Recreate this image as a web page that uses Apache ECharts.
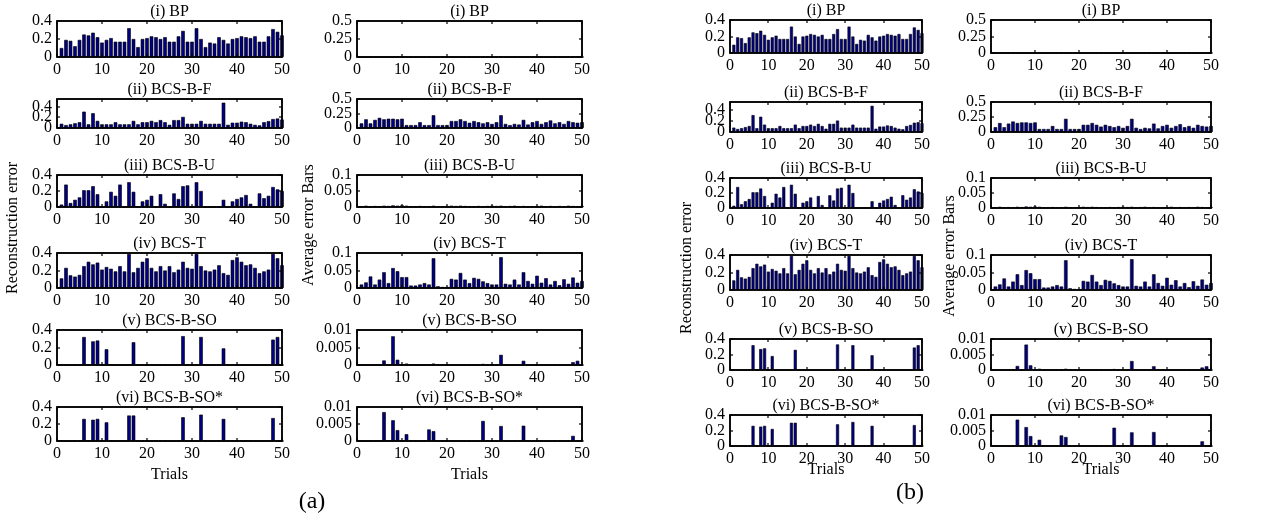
<!DOCTYPE html>
<html>
<head>
<meta charset="utf-8">
<script src="https://cdn.jsdelivr.net/npm/echarts@6/dist/echarts.min.js"></script>
<style>html,body{margin:0;padding:0;background:#fff}#main{width:1266px;height:519px}</style>
</head>
<body>
<div id="main"></div>
<script>
// trial index (x)
var trials = [1,2,3,4,5,6,7,8,9,10,11,12,13,14,15,16,17,18,19,20,21,22,23,24,25,
  26,27,28,29,30,31,32,33,34,35,36,37,38,39,40,41,42,43,44,45,46,47,48,49,50];
var xTicks = [0, 10, 20, 30, 40, 50];

var subTitles = ['(i) BP', '(ii) BCS-B-F', '(iii) BCS-B-U', '(iv) BCS-T', '(v) BCS-B-SO', '(vi) BCS-B-SO*'];

// reconstruction error
var recBP = [.10,.19,.18,.12,.19,.25,.24,.27,.22,.16, .19,.21,.17,.17,.17,.32,.20,.11,.20,.21,
  .23,.22,.20,.22,.17,.17,.23,.29,.17,.17, .32,.20,.11,.16,.15,.22,.19,.15,.20,.21,
  .23,.22,.21,.23,.17,.17,.23,.31,.28,.24];
var recBF = [.08,.055,.07,.09,.11,.31,.07,.28,.135,.07, .07,.07,.11,.07,.07,.07,.135,.07,.11,.11,
  .135,.11,.15,.11,.06,.15,.15,.21,.08,.08, .08,.135,.08,.08,.08,.08,.48,.06,.10,.10,
  .12,.11,.08,.06,.05,.11,.13,.17,.18,.16];
var recBU = [.03,.28,.05,.09,.12,.21,.21,.26,.16,0, .07,.19,.14,.28,0,.31,.19,0,.07,.09,
  .14,0,.16,.04,0,.17,.10,.26,.27,0, .31,.20,0,0,0,0,.09,0,.07,.10,
  .12,.15,.04,0,.17,.11,.14,.25,.22,.20];
var recT = [.11,.23,.145,.13,.15,.25,.30,.27,.29,.21, .24,.22,.19,.25,.19,.39,.18,.23,.30,.34,
  .23,.19,.25,.20,.25,.18,.21,.30,.23,.22, .39,.25,.20,.19,.21,.26,.17,.15,.32,.35,
  .30,.26,.27,.23,.17,.19,.21,.39,.34,.26];
var recSO = [0,0,0,0,0,.32,0,.27,.28,0, .18,0,0,0,0,0,.26,0,0,0,
  0,0,0,0,0,0,0,.33,0,0, 0,.32,0,0,0,0,.19,0,0,0,
  0,0,0,0,0,0,0,.29,.32,0];
var recSOs = [0,0,0,0,0,.26,0,.25,.26,0, .22,0,0,0,0,.30,.30,0,0,0,
  0,0,0,0,0,0,0,.28,0,0, 0,.31,0,0,0,0,.26,0,0,0,
  0,0,0,0,0,0,0,.27,0,0];

// average error bars
var avgBP = [0,0,0,0,0,0,0,0,0,0, 0,0,0,0,0,0,0,0,0,0, 0,0,0,0,0,0,0,0,0,0,
  0,0,0,0,0,0,0,0,0,0, 0,0,0,0,0,0,0,0,0,0];
var avgBF = [.08,.15,.08,.14,.175,.15,.16,.16,.15,.16, .05,.05,.05,.10,.05,.05,.22,.05,.05,.05,
  .12,.12,.15,.12,.09,.12,.10,.08,.10,.07, .10,.22,.07,.05,.07,.06,.14,.06,.10,.12,
  .07,.10,.13,.08,.10,.07,.12,.10,.09,.10];
var avgBU = [.002,.004,.001,.003,.002,.004,.003,.005,.004,.005, .004,.002,.001,.003,.002,.002,.004,.001,.002,.003,
  .004,.003,.004,.003,.002,.001,.003,.002,.003,.004, .003,.004,.002,.003,.004,.002,.003,.001,.002,.003,
  .004,.002,.003,.001,.003,.002,.004,.003,.002,.003];
var avgT = [.01,.016,.033,.01,.024,.045,.014,.057,.048,.031, .031,.007,.007,.01,.014,.01,.085,.005,.003,.003,
  .026,.024,.043,.024,.014,.029,.026,.019,.014,.01, .01,.088,.012,.01,.024,.01,.045,.02,.012,.035,
  .015,.028,.01,.02,.008,.025,.012,.03,.015,.02];
var avgSO = [0,0,0,0,0,.0013,0,.0082,.0015,0, .0004,0,0,0,0,0,.0004,0,0,0,
  0,0,0,0,0,0,0,.0003,0,0, 0,.0029,0,0,0,0,.0012,0,0,0,
  0,0,0,0,0,0,0,.0008,.0012,0];
var avgSOs = [0,0,0,0,0,.0085,0,.0061,.0032,0, .002,0,0,0,0,.0034,.0029,0,0,0,
  0,0,0,0,0,0,0,.0059,0,0, 0,.0044,0,0,0,0,.0045,0,0,0,
  0,0,0,0,0,0,0,.0015,0,0];

// y ticks
var recMax = [0.4, 0.55, 0.4, 0.4, 0.4, 0.4];
var recStep = [0.2, 0.2, 0.2, 0.2, 0.2, 0.2];
var avgMax = [0.5, 0.5, 0.1, 0.1, 0.01, 0.01];
var avgStep = [0.25, 0.25, 0.05, 0.05, 0.005, 0.005];

var recData = [recBP, recBF, recBU, recT, recSO, recSOs];
var avgData = [avgBP, avgBF, avgBU, avgT, avgSO, avgSOs];

var myChart = echarts.init(document.getElementById('main'));
var FONT = 'Liberation Serif';

var panels = [
  {colX: [57, 357], w: [225, 225], tops: [21, 99, 175, 253, 330, 407], hs: [36, 29, 32, 35, 35, 34],
   ylabX: [13, 309], ylabY: [228, 225], trialsY: 475, tagX: 312, tagY: 502, tag: '(a)'},
  {colX: [730, 991], w: [192, 220], tops: [20, 102, 178, 255, 339, 415], hs: [33, 30, 30, 35, 31, 31],
   ylabX: [687, 950], ylabY: [268, 256], trialsY: 470, tagX: 910, tagY: 493, tag: '(b)'}
];

var grid = [], xAxis = [], yAxis = [], series = [], graphic = [], plots = [];

function txt(x, y, s, size, rot, align) {
  graphic.push({type: 'text', x: x, y: y, rotation: rot || 0,
    style: {text: s, font: size + 'px ' + FONT, fill: '#000', textAlign: align || 'center', textVerticalAlign: 'middle'}});
}
function seg(x1, y1, x2, y2, lw) {
  graphic.push({type: 'line', shape: {x1: x1, y1: y1, x2: x2, y2: y2},
    style: {stroke: '#000', lineWidth: lw || 1.5}, z: 10});
}

function addPlot(x, top, w, h, vals, ymax, ystep, title) {
  var g = grid.length;
  plots.push({left: x, max: ymax, step: ystep});
  grid.push({left: x, top: top, width: w, height: h, containLabel: false,
    show: true, borderColor: '#000', borderWidth: 1.5, backgroundColor: 'rgba(0,0,0,0)'});
  xAxis.push({type: 'value', gridIndex: g, min: 0, max: 50, interval: 10,
    splitLine: {show: false}, axisLine: {show: false}, axisTick: {show: false},
    axisLabel: {fontFamily: FONT, fontSize: 16, color: '#000', margin: 5,
      showMinLabel: true, showMaxLabel: true}});
  yAxis.push({type: 'value', gridIndex: g, min: 0, max: ymax, interval: ystep,
    splitLine: {show: false}, axisLine: {show: false}, axisTick: {show: false}, axisLabel: {show: false}});
  series.push({type: 'bar', xAxisIndex: g, yAxisIndex: g,
    barWidth: 0.8 * w / 50, clip: true,
    itemStyle: {color: '#000080', borderColor: '#000', borderWidth: 0.6},
    data: trials.map(function (t, i) { return [t, vals[i]]; })});
  txt(x + w / 2, top - 9, title, 16);
}

panels.forEach(function (p) {
  for (var r = 0; r < 6; r++) {
    addPlot(p.colX[0], p.tops[r], p.w[0], p.hs[r], recData[r], recMax[r], recStep[r], subTitles[r]);
    addPlot(p.colX[1], p.tops[r], p.w[1], p.hs[r], avgData[r], avgMax[r], avgStep[r], subTitles[r]);
  }
  txt(p.ylabX[0], p.ylabY[0], 'Reconstruction error', 16, Math.PI / 2);
  txt(p.ylabX[1], p.ylabY[1], 'Average error Bars', 16, Math.PI / 2);
  txt(p.colX[0] + p.w[0] / 2, p.trialsY, 'Trials', 16);
  txt(p.colX[1] + p.w[1] / 2, p.trialsY, 'Trials', 16);
  txt(p.tagX, p.tagY, p.tag, 24);
});

var option = {
  backgroundColor: '#fff',
  animation: false,
  grid: grid,
  xAxis: xAxis,
  yAxis: yAxis,
  series: series,
  graphic: graphic
};

myChart.setOption(option);

// box outline, inward ticks on all four sides and crowded y labels,
// all placed through the axis scales
plots.forEach(function (pl, g) {
  var f = {xAxisIndex: g, yAxisIndex: g};
  var a = myChart.convertToPixel(f, [0, 0]);
  var b = myChart.convertToPixel(f, [50, pl.max]);
  var L = Math.round(a[0]), R = Math.round(b[0]);
  var B = Math.round(a[1]), T = Math.round(b[1]);
  graphic.push({type: 'rect', shape: {x: L, y: T, width: R - L, height: B - T},
    style: {fill: 'rgba(0,0,0,0)', stroke: '#000', lineWidth: 1.5}, z: 10});
  xTicks.forEach(function (t) {
    var px = Math.round(myChart.convertToPixel(f, [t, 0])[0]);
    seg(px, B, px, B - 3, 1.2); seg(px, T, px, T + 3, 1.2);
  });
  var n = Math.floor(pl.max / pl.step + 1e-6);
  for (var k = 0; k <= n; k++) {
    var v = +(k * pl.step).toFixed(6);
    var py = Math.round(myChart.convertToPixel(f, [0, v])[1]);
    seg(L, py, L + 3, py, 1.2); seg(R, py, R - 3, py, 1.2);
    txt(pl.left - 5, py, String(v), 16, 0, 'right');
  }
});
myChart.setOption({graphic: {elements: graphic}});

window.onresize = function () {
  myChart.resize();
};
</script>
</body>
</html>
